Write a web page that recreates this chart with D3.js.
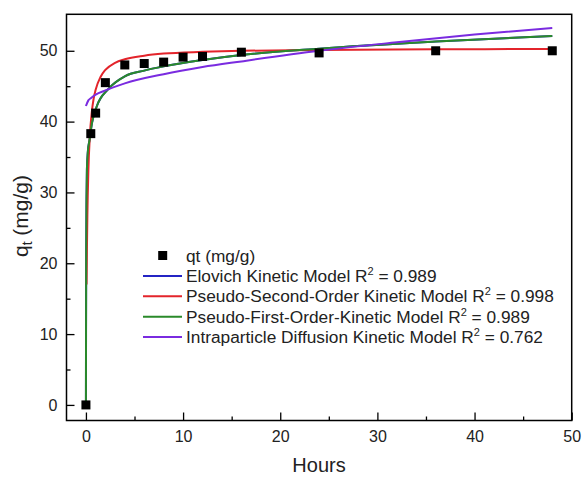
<!DOCTYPE html>
<html>
<head>
<meta charset="utf-8">
<script src="https://cdn.jsdelivr.net/npm/d3@7"></script>
<style>
  body { margin: 0; background: #fff; }
  svg { display: block; font-family: Arial, "Liberation Sans", sans-serif; }
  .tick text { font-size: 16px; fill: #222; }
</style>
</head>
<body>
<svg id="chart" width="583" height="477"></svg>
<script>
// measured points
const obsT = [0, 0.5, 1, 2, 4, 6, 8, 10, 12, 16, 24, 36, 48]
const obsQ = [0, 38.3, 41.2, 45.5, 48.0, 48.2, 48.4, 49.1, 49.2, 49.8, 49.7, 50.0, 50.0]

// model curves
const elovichT = [0, 0.01, 0.03, 0.06, 0.1, 0.2, 0.37, 0.62, 1.1, 2.3, 4, 6, 8, 12, 16, 24, 36, 48]
const elovichQ = [0, 10, 22, 29, 33.2, 35.8, 37.4, 39.8, 42.1, 44.6, 46.4, 47.2, 47.8, 48.7, 49.4, 50.3, 51.3, 52.1]

const psoT = [0.065, 0.1, 0.15, 0.25, 0.4, 0.6, 0.8, 1, 1.5, 2, 3, 4, 6, 8, 12, 16, 24, 36, 48]
const psoQ = [17, 21.7, 26.8, 33.0, 37.9, 41.3, 43.3, 44.5, 46.3, 47.3, 48.3, 48.8, 49.3, 49.6, 49.85, 50.0, 50.1, 50.2, 50.26]

const pfoT = [0, 0.01, 0.03, 0.06, 0.1, 0.2, 0.37, 0.62, 1.1, 2.3, 4, 6, 8, 12, 16, 24, 36, 48]
const pfoQ = [0, 10, 22, 29, 33.2, 35.8, 37.4, 39.8, 42.1, 44.6, 46.4, 47.2, 47.8, 48.7, 49.4, 50.3, 51.3, 52.1]

const ipdT = [0, 0.25, 0.5, 1, 2, 4, 8, 12, 16, 24, 32, 40, 48]
const ipdQ = [42.2, 43.0, 43.3, 43.8, 44.4, 45.4, 46.7, 47.7, 48.5, 50.0, 51.2, 52.3, 53.2]

const xTicks = [0, 10, 20, 30, 40, 50]
const xMinor = [5, 15, 25, 35, 45]
const yTicks = [0, 10, 20, 30, 40, 50]
const yMinor = [5, 15, 25, 35, 45]

const legendNames = [
  "Elovich Kinetic Model R",
  "Pseudo-Second-Order Kinetic Model R",
  "Pseudo-First-Order-Kinetic Model R",
  "Intraparticle Diffusion Kinetic Model R"
]
const legendR2 = ["0.989", "0.998", "0.989", "0.762"]
const colors = ["#2424c4", "#e3242b", "#2a8a2a", "#7a2be0"]

const svg = d3.select("#chart")
const box = { left: 66.5, right: 571.7, top: 14.3, bottom: 420.5 }

const x = d3.scaleLinear().domain([-2, 50]).range([box.left, box.right])
const y = d3.scaleLinear().domain([-2.2, 55.15]).range([box.bottom, box.top])

const zip = (ts, qs) => ts.map((t, i) => [t, qs[i]])
const line = d3.line().x(d => x(d[0])).y(d => y(d[1])).curve(d3.curveMonotoneX)

const series = [zip(elovichT, elovichQ), zip(psoT, psoQ), zip(pfoT, pfoQ), zip(ipdT, ipdQ)]

const plot = svg.append("g")
series.forEach((s, i) => {
  plot.append("path")
    .datum(s)
    .attr("d", line)
    .attr("fill", "none")
    .attr("stroke", colors[i])
    .attr("stroke-width", 2)
})

const sq = 9
plot.selectAll("rect.obs")
  .data(zip(obsT, obsQ))
  .join("rect")
  .attr("class", "obs")
  .attr("x", d => x(d[0]) - sq / 2)
  .attr("y", d => y(d[1]) - sq / 2)
  .attr("width", sq)
  .attr("height", sq)
  .attr("fill", "#000")

// axes, ticks point inward
const xAxis = svg.append("g").attr("transform", `translate(0,${box.bottom})`)
  .call(d3.axisBottom(x).tickValues(xTicks).tickSize(-8).tickPadding(10))
xAxis.select(".domain").remove()
svg.append("g").attr("transform", `translate(0,${box.bottom})`)
  .call(d3.axisBottom(x).tickValues(xMinor).tickSize(-4).tickFormat(""))
  .select(".domain").remove()

const yAxis = svg.append("g").attr("transform", `translate(${box.left},0)`)
  .call(d3.axisLeft(y).tickValues(yTicks).tickSize(-8).tickPadding(9))
yAxis.select(".domain").remove()
svg.append("g").attr("transform", `translate(${box.left},0)`)
  .call(d3.axisLeft(y).tickValues(yMinor).tickSize(-4).tickFormat(""))
  .select(".domain").remove()

svg.selectAll(".tick line").attr("stroke", "#000").attr("stroke-width", 1.3)

svg.append("rect")
  .attr("x", box.left).attr("y", box.top)
  .attr("width", box.right - box.left).attr("height", box.bottom - box.top)
  .attr("fill", "none").attr("stroke", "#000").attr("stroke-width", 1.5)

// axis titles
svg.append("text")
  .attr("x", 319).attr("y", 472)
  .attr("text-anchor", "middle")
  .attr("font-size", 20).attr("fill", "#222")
  .text("Hours")

const yt = svg.append("text")
  .attr("transform", "translate(28,216) rotate(-90)")
  .attr("text-anchor", "middle")
  .attr("font-size", 21).attr("fill", "#222")
yt.append("tspan").text("q")
yt.append("tspan").attr("font-size", 14).attr("dy", 4).text("t")
yt.append("tspan").attr("dy", -4).text(" (mg/g)")

// legend
const lg = svg.append("g")
const rowY = i => 255.5 + i * 20.4
lg.append("rect")
  .attr("x", 162.7 - 4.5).attr("y", rowY(0) - 4.5)
  .attr("width", 9).attr("height", 9).attr("fill", "#000")
lg.append("text")
  .attr("x", 186).attr("y", rowY(0) + 6)
  .attr("font-size", 17.3).attr("fill", "#222")
  .text("qt (mg/g)")

legendNames.forEach((name, i) => {
  const yy = rowY(i + 1)
  lg.append("line")
    .attr("x1", 143).attr("x2", 182).attr("y1", yy).attr("y2", yy)
    .attr("stroke", colors[i]).attr("stroke-width", 2)
  const t = lg.append("text")
    .attr("x", 186).attr("y", yy + 6)
    .attr("font-size", 17.3).attr("fill", "#222")
  t.append("tspan").text(name)
  t.append("tspan").attr("font-size", 11).attr("dy", -7).text("2")
  t.append("tspan").attr("dy", 7).text(" = " + legendR2[i])
})
</script>
</body>
</html>
